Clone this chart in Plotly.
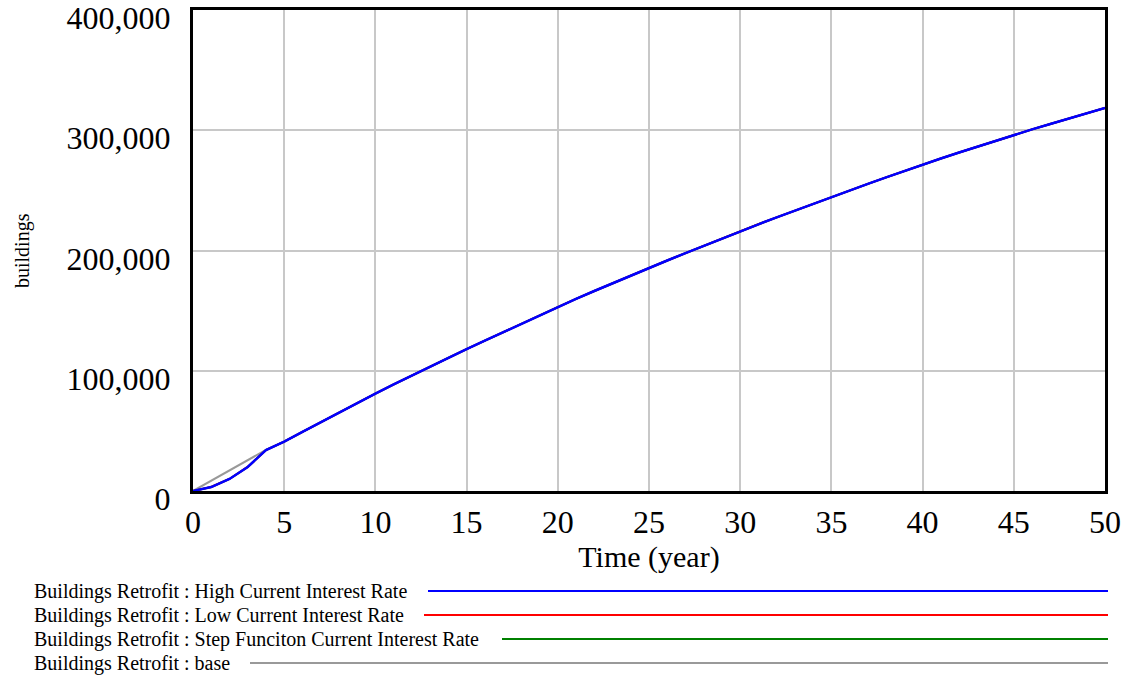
import plotly.graph_objects as go

# ---- data ----
years = list(range(0, 51))

high_rate = [0, 3300, 10000, 20000, 34000, 41000, 49150, 57200, 65200, 73100,
             81000, 88600, 96100, 103500, 110800, 118000, 125100, 132150, 139150, 146100,
             153000, 159700, 166300, 172800, 179200, 185500, 191700, 197850, 203950, 210000,
             216000, 221800, 227550, 233250, 238900, 244500, 250000, 255450, 260850, 266200,
             271500, 276500, 281500, 286400, 291300, 296100, 300700, 305200, 309700, 314100,
             318500]
low_rate = list(high_rate)
step_rate = list(high_rate)
base = [0, 8500, 17000, 25700, 34200] + high_rate[5:]

series_names = [
    "Buildings Retrofit : High Current Interest Rate",
    "Buildings Retrofit : Low Current Interest Rate",
    "Buildings Retrofit : Step Funciton Current Interest Rate",
    "Buildings Retrofit : base",
]
series_values = [high_rate, low_rate, step_rate, base]
series_colors = ["#0000ff", "#ff0000", "#008000", "#999999"]

y_ticks = [0, 100000, 200000, 300000, 400000]
x_ticks = list(range(0, 51, 5))

# ---- layout geometry (pixels) ----
W, H = 1126, 679
L, R, T, B = 193, 21, 10, 188
PW, PH = W - L - R, H - T - B


def px_x(px):
    return (px - L) / PW


def px_y(py):
    return (H - B - py) / PH


SERIF = "Liberation Serif, Times New Roman, serif"

fig = go.Figure()
# draw order: base first, blue last (on top)
for idx in [3, 2, 1, 0]:
    fig.add_trace(go.Scatter(
        x=years, y=series_values[idx], mode="lines", name=series_names[idx],
        line=dict(color=series_colors[idx], width=2.5 if idx == 0 else 2),
        showlegend=False,
    ))

fig.update_layout(
    width=W, height=H,
    margin=dict(l=L, r=R, t=T, b=B, pad=0, autoexpand=False),
    paper_bgcolor="white", plot_bgcolor="white",
    font=dict(family=SERIF, color="black"),
    showlegend=False,
)
fig.update_xaxes(
    range=[0, 50], tickvals=x_ticks, ticktext=[str(v) for v in x_ticks],
    showgrid=True, gridcolor="#c8c8c8", gridwidth=2, zeroline=False,
    showline=True, linecolor="black", linewidth=3, mirror=True,
    tickfont=dict(family=SERIF, size=32, color="black"),
    ticklabelstandoff=1, ticklabeloverflow="allow", automargin=False,
    title=dict(text="Time (year)", font=dict(family=SERIF, size=30, color="black"), standoff=2),
)
fig.update_yaxes(
    range=[0, 400000], tickvals=y_ticks, ticktext=[f"{v:,}" for v in y_ticks],
    showgrid=True, gridcolor="#c8c8c8", gridwidth=2, zeroline=False,
    showline=True, linecolor="black", linewidth=3, mirror=True,
    tickfont=dict(family=SERIF, size=32, color="black"),
    ticklabelstandoff=13, ticklabelshift=8, ticklabeloverflow="allow", automargin=False,
)

# y-axis label
fig.add_annotation(
    text="buildings", textangle=-90, showarrow=False,
    xref="paper", yref="paper", x=px_x(22), y=px_y(251),
    xanchor="center", yanchor="middle",
    font=dict(family=SERIF, size=20, color="black"),
)

# legend (Vensim style: label then line)
legend_rows_y = [591, 615, 639, 663]
legend_line_start = [428, 424, 502, 250]
for name, color, ry, lx in zip(series_names, series_colors, legend_rows_y, legend_line_start):
    fig.add_annotation(
        text=name, showarrow=False, xref="paper", yref="paper",
        x=px_x(32), y=px_y(ry), xanchor="left", yanchor="middle",
        font=dict(family=SERIF, size=20, color="black"),
    )
    fig.add_shape(
        type="line", xref="paper", yref="paper",
        x0=px_x(lx), x1=px_x(1108), y0=px_y(ry), y1=px_y(ry),
        line=dict(color=color, width=2),
    )

fig.write_html("out.html", config={"displayModeBar": False},
               post_script="document.body.style.margin='0';")
